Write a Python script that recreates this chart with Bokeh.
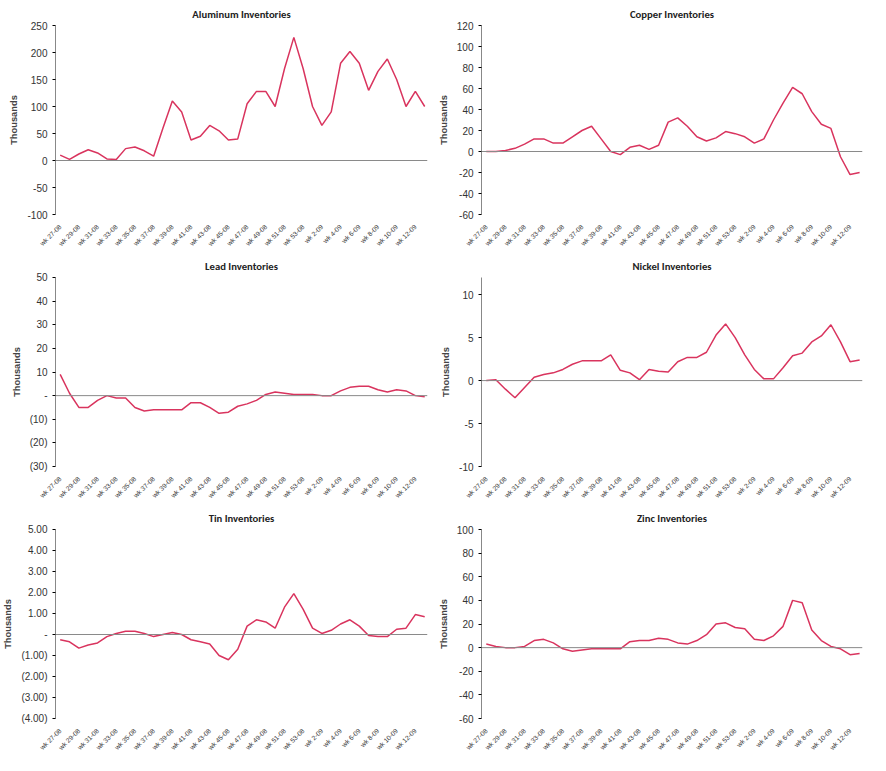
from bokeh.models import Span, FixedTicker
from bokeh.plotting import figure
from bokeh.layouts import gridplot
from bokeh.embed import file_html
from bokeh.resources import INLINE
import math

weeks = [f"wk {w}-08" for w in range(27, 54)] + [f"wk {w}-09" for w in range(1, 14)]

aluminum = [10, 2, 12, 20, 14, 3, 2, 22, 25, 18, 8, 60, 110, 90, 38, 45, 65, 55, 38, 40,
            105, 128, 128, 100, 170, 228, 170, 100, 65, 90, 180, 202, 180, 130, 165, 188, 150, 100, 128, 100]
copper = [0, 0, 1, 3, 7, 12, 12, 8, 8, 14, 20, 24, 12, 0, -3, 4, 6, 2, 6, 28,
          32, 24, 14, 10, 13, 19, 17, 14, 8, 12, 30, 46, 61, 55, 38, 26, 22, -5, -22, -20]
lead = [9, 1, -5, -5, -2, 0, -1, -1, -5, -6.5, -6, -6, -6, -6, -3, -3, -5, -7.5, -7, -4.5,
        -3.5, -2, 0.5, 1.5, 1, 0.5, 0.5, 0.5, 0, 0, 2, 3.5, 4, 4, 2.5, 1.5, 2.5, 2, 0, -0.5]
nickel = [0, 0.1, -1, -2, -0.8, 0.4, 0.7, 0.9, 1.3, 1.9, 2.3, 2.3, 2.3, 3, 1.2, 0.9, 0.1, 1.3, 1.1, 1.0,
          2.2, 2.7, 2.7, 3.3, 5.3, 6.6, 5, 3, 1.3, 0.2, 0.2, 1.5, 2.9, 3.2, 4.5, 5.2, 6.5, 4.5, 2.2, 2.4]
tin = [-0.25, -0.35, -0.65, -0.5, -0.4, -0.1, 0.05, 0.15, 0.15, 0.05, -0.1, 0, 0.1, 0, -0.25, -0.35, -0.45, -1.0, -1.2, -0.7,
       0.4, 0.7, 0.6, 0.3, 1.3, 1.95, 1.2, 0.3, 0.05, 0.2, 0.5, 0.7, 0.4, -0.05, -0.1, -0.1, 0.25, 0.3, 0.95, 0.85]
zinc = [3, 1, 0, 0, 1, 6, 7, 4, -1, -3, -2, -1, -1, -1, -1, 5, 6, 6, 8, 7,
        4, 3, 6, 11, 20, 21, 17, 16, 7, 6, 10, 18, 40, 38, 15, 6, 1, -1, -6, -5]


def acct(v, dec):
    if v == 0:
        return "-"
    s = f"{abs(v):.{dec}f}"
    return f"({s})" if v < 0 else s


def make(title, ys, lo, hi, step, style="plain", dec=0):
    p = figure(width=435, height=252, output_backend="svg", toolbar_location=None,
               x_range=(-0.5, 39.3), y_range=(lo, hi), title=title)
    p.title.align = "center"
    p.title.text_font = "Calibri, Liberation Sans"
    p.title.text_font_size = "8pt"
    p.title.text_color = "#222222"
    p.outline_line_color = None
    p.grid.visible = False
    p.min_border_right = 8
    p.add_layout(Span(location=0, dimension="width", line_color="#8a8a8a", line_width=1))
    p.line(list(range(len(ys))), ys, line_color="#d9345e", line_width=1.5)

    ticks = []
    v = lo
    while v <= hi + 1e-9:
        ticks.append(round(v, 4))
        v += step
    p.yaxis.ticker = FixedTicker(ticks=ticks)
    if style == "acct":
        p.yaxis.major_label_overrides = {t: acct(t, dec) for t in ticks}
    else:
        p.yaxis.major_label_overrides = {t: f"{t:.0f}" for t in ticks}
    p.yaxis.axis_label = "Thousands"
    p.yaxis.axis_label_text_font_size = "7pt"
    p.yaxis.axis_label_text_font_style = "bold"
    p.yaxis.major_label_text_font_size = "7.5pt"
    p.yaxis.minor_tick_line_color = None
    p.yaxis.major_tick_out = 3
    p.yaxis.major_tick_in = 0

    xt = list(range(0, 40, 2))
    p.xaxis.ticker = FixedTicker(ticks=xt)
    p.xaxis.major_label_overrides = {i: weeks[i] for i in xt}
    p.xaxis.major_label_orientation = math.pi / 4
    p.xaxis.major_label_text_font_size = "5pt"
    p.xaxis.axis_line_color = None
    p.xaxis.major_tick_line_color = None
    p.xaxis.minor_tick_line_color = None
    for ax in (p.xaxis, p.yaxis):
        ax.major_label_text_color = "#333333"
    p.yaxis.axis_line_color = "#888888"
    return p


figs = [
    make("Aluminum Inventories", aluminum, -100, 250, 50),
    make("Copper Inventories", copper, -60, 120, 20),
    make("Lead Inventories", lead, -30, 50, 10, "acct", 0),
    make("Nickel Inventories", nickel, -10, 12, 5),
    make("Tin Inventories", tin, -4, 5, 1, "acct", 2),
    make("Zinc Inventories", zinc, -60, 100, 20),
]
figs[3].yaxis.ticker = FixedTicker(ticks=[-10, -5, 0, 5, 10])

p = gridplot(figs, ncols=2, toolbar_location=None)
open("out.html", "w").write(file_html(p, INLINE))
